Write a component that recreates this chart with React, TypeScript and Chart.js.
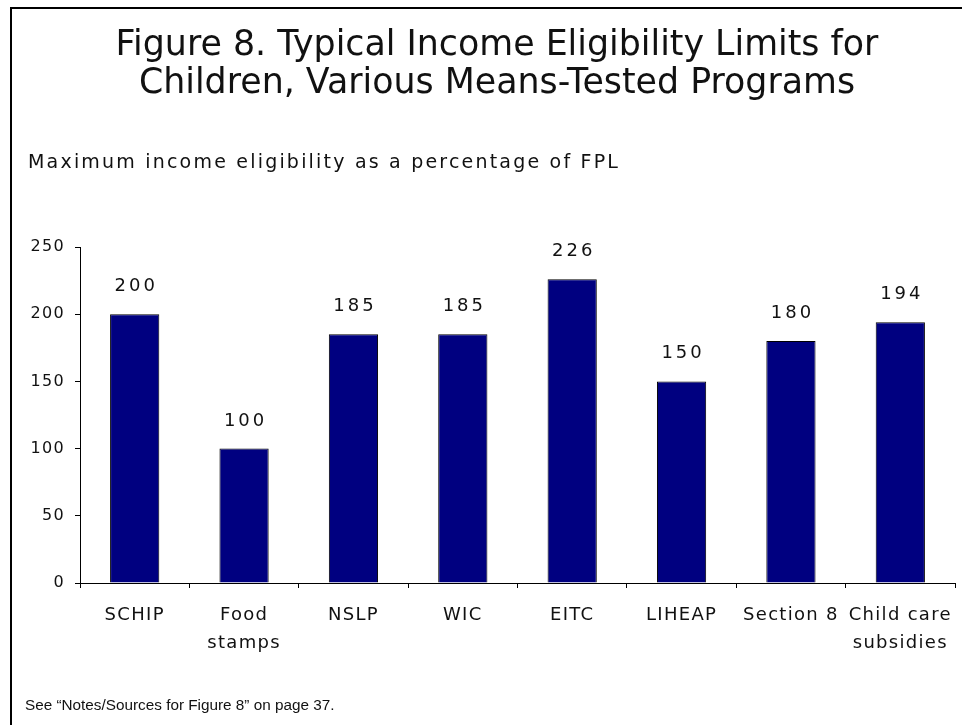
import React, { useEffect, useRef } from "react";
import { Chart, registerables } from "chart.js";

Chart.register(...registerables);

const titleLine1 = "Figure 8. Typical Income Eligibility Limits for";
const titleLine2 = "Children, Various Means-Tested Programs";
const subtitle = "Maximum income eligibility as a percentage of FPL";
const footnote = "See \u201CNotes/Sources for Figure 8\u201D on page 37.";

const categories: (string | string[])[] = [
  "SCHIP",
  ["Food", "stamps"],
  "NSLP",
  "WIC",
  "EITC",
  "LIHEAP",
  "Section 8",
  ["Child care", "subsidies"],
];
const values: number[] = [200, 100, 185, 185, 226, 150, 180, 194];
const yMin = 0;
const yMax = 250;
const yStep = 50;

const FONT = "'DejaVu Sans', Verdana, sans-serif";
const TEXT = "#111";

const valueLabelPlugin = {
  id: "valueLabels",
  beforeDraw(chart: any) {
    chart.ctx.letterSpacing = "1.3px";
  },
  afterDatasetsDraw(chart: any) {
    const ctx = chart.ctx;
    const meta = chart.getDatasetMeta(0);
    ctx.save();
    ctx.letterSpacing = "3px";
    ctx.font = `18px ${FONT}`;
    ctx.fillStyle = TEXT;
    ctx.textAlign = "center";
    ctx.textBaseline = "alphabetic";
    meta.data.forEach((bar: any, i: number) => {
      ctx.fillText(String(values[i]), bar.x + 1.5, bar.y - 23);
    });
    ctx.restore();
  },
};

export default function App() {
  const canvasRef = useRef<HTMLCanvasElement | null>(null);

  useEffect(() => {
    if (!canvasRef.current) return;
    const chart = new Chart(canvasRef.current, {
      type: "bar",
      data: {
        labels: categories,
        datasets: [
          {
            data: values,
            backgroundColor: "#000080",
            borderColor: "#000000",
            borderWidth: 1,
            categoryPercentage: 1,
            barPercentage: 0.45,
          },
        ],
      },
      options: {
        animation: false,
        responsive: true,
        maintainAspectRatio: false,
        layout: { padding: { top: 247, right: 7, left: 0, bottom: 0 } },
        plugins: {
          legend: { display: false },
          title: { display: false },
          tooltip: { enabled: false },
        },
        scales: {
          x: {
            afterFit: (scale: any) => {
              scale.height = 142;
            },
            border: { display: true, color: "#000", width: 1 },
            grid: {
              display: true,
              drawOnChartArea: false,
              drawTicks: true,
              tickLength: 5,
              color: "#000",
              offset: true,
            },
            ticks: {
              color: TEXT,
              font: { family: FONT, size: 18, lineHeight: 1.55 },
              padding: 13,
              maxRotation: 0,
              autoSkip: false,
            },
          },
          y: {
            min: yMin,
            max: yMax,
            afterFit: (scale: any) => {
              scale.width = 80;
            },
            border: { display: true, color: "#000", width: 1 },
            grid: {
              display: true,
              drawOnChartArea: false,
              drawTicks: true,
              tickLength: 5,
              color: "#000",
            },
            ticks: {
              stepSize: yStep,
              color: TEXT,
              font: { family: FONT, size: 16 },
              padding: 10,
            },
          },
        },
      },
      plugins: [valueLabelPlugin],
    });
    return () => chart.destroy();
  }, []);

  const titleStyle: React.CSSProperties = {
    position: "absolute",
    left: 97,
    width: 800,
    textAlign: "center",
    font: `34.8px ${FONT}`,
    lineHeight: "38px",
    color: TEXT,
    whiteSpace: "nowrap",
  };

  return (
    <div
      style={{
        position: "absolute",
        left: 0,
        top: 0,
        width: 962,
        height: 725,
        background: "#fff",
        overflow: "hidden",
      }}
    >
      <div
        style={{
          position: "absolute",
          left: 10,
          top: 7,
          width: 952,
          height: 718,
          borderTop: "2px solid #000",
          borderLeft: "2px solid #000",
          boxSizing: "border-box",
        }}
      />
      <div style={{ position: "absolute", left: 0, top: 0, width: 962, height: 725 }}>
        <canvas ref={canvasRef} />
      </div>
      <div style={{ ...titleStyle, top: 24 }}>{titleLine1}</div>
      <div style={{ ...titleStyle, top: 62 }}>{titleLine2}</div>
      <div
        style={{
          position: "absolute",
          left: 28,
          top: 151,
          font: `19px ${FONT}`,
          lineHeight: "20px",
          letterSpacing: "2.2px",
          color: TEXT,
          whiteSpace: "nowrap",
        }}
      >
        {subtitle}
      </div>
      <div
        style={{
          position: "absolute",
          left: 25,
          top: 696,
          font: "15.3px 'Liberation Sans', Arial, sans-serif",
          lineHeight: "17px",
          color: TEXT,
          whiteSpace: "nowrap",
        }}
      >
        {footnote}
      </div>
    </div>
  );
}
